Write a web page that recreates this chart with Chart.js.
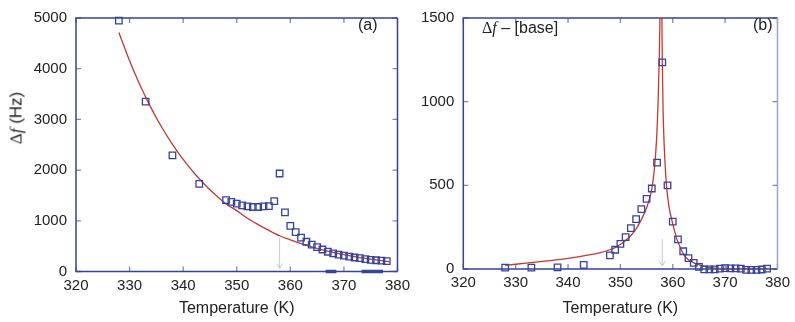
<!DOCTYPE html>
<html>
<head>
<meta charset="utf-8">
<script src="https://cdn.jsdelivr.net/npm/chart.js@4.4.1/dist/chart.umd.min.js"></script>
<style>
  body { margin: 0; background: #fff; width: 795px; height: 322px; overflow: hidden; position: relative;
         font-family: "Liberation Sans", Arial, sans-serif; }
  .box { position: absolute; top: 0; height: 322px; }
  #boxA { left: 0; width: 415px; }
  #boxB { left: 415px; width: 380px; }
  .lbl { position: absolute; font-size: 16px; color: #222; white-space: nowrap; line-height: 1; }
  .sym { font-family: "Liberation Serif", "DejaVu Serif", serif; }
  .it { font-style: italic; }
  #ytitle { left: 16px; top: 118px; transform: translate(-50%, -50%) rotate(-90deg); font-size: 17px; }
</style>
</head>
<body>
<div class="box" id="boxA"><canvas id="chartA"></canvas></div>
<div class="box" id="boxB"><canvas id="chartB"></canvas></div>

<div class="lbl" id="ytitle"><span class="sym">&Delta;<span class="it">f</span></span> (Hz)</div>
<div class="lbl" style="left:358px; top:17px;">(a)</div>
<div class="lbl" style="left:753px; top:17px;">(b)</div>
<div class="lbl" style="left:482px; top:20px;"><span class="sym">&Delta;<span class="it">f</span></span> &ndash; [base]</div>

<script>
// measured temperatures (K)
const temps = [328, 333, 338, 343,
  348, 349, 350, 351, 352, 353, 354, 355, 356, 357, 358,
  359, 360, 361, 362, 363, 364, 365, 366, 367, 368,
  369, 370, 371, 372, 373, 374, 375, 376, 377, 378];

// panel (a): frequency shift (Hz)
const shiftA = [4950, 3350, 2290, 1730,
  1406, 1375, 1337, 1305, 1286, 1272, 1272, 1286, 1291, 1387, 1933,
  1165, 899, 777, 670, 587, 530, 480, 434, 390, 358,
  333, 314, 295, 276, 263, 244, 230, 222, 215, 206];

// panel (b): shift minus baseline (Hz)
const shiftB = [8, 8, 10, 25,
  81, 115, 150, 190, 244, 298, 358, 419, 481, 636, 1235,
  500, 283, 177, 106, 65, 37, 13, -2, -2, -2,
  2, 5, 4, 4, 2, -5, -5, -5, -3, 2];

// fitted baseline curve in (a)
const fitTempA = [328, 330, 332, 334, 336, 338, 340, 342, 344, 346, 348, 350, 352, 354,
  356, 358, 360, 362, 364, 366, 368, 370, 372, 374, 376, 378, 378.5];
const fitA = [4714, 4155, 3662, 3228, 2845, 2508, 2210, 1948, 1717, 1513, 1334, 1200, 1050, 925,
  810, 705, 625, 551, 486, 425, 375, 333, 293, 258, 228, 201, 195];

// fitted critical curve in (b), two branches
const fitTempBL = [328, 332, 336, 340, 344, 346, 348, 349, 350, 351, 352, 353, 354, 355,
  355.5, 356, 356.5, 356.9, 357.2, 357.45, 357.6];
const fitBL = [22, 35, 48, 63, 84, 97, 115, 128, 146, 170, 200, 240, 295, 365,
  415, 480, 600, 770, 1000, 1300, 1600];
const fitTempBR = [357.9, 358.0, 358.15, 358.35, 358.8, 359.3, 359.9, 360.8, 361.5, 362.2, 363,
  364.4, 365.5, 366.9, 368, 369.5, 372, 375, 378];
const fitBR = [1600, 1250, 950, 750, 500, 370, 283, 177, 125, 82, 55,
  32, 20, 10, 5, 2, 0, 0, 0];

// marks on the baseline of (a)
const baseMarkT = [366.6, 368.6, 370, 373.3, 377.3];
const baseMarkV = [0, 0, null, 0, 0];

const transitionT = 358;
const xTicks = [320, 330, 340, 350, 360, 370, 380];

const blue = '#34449a';
const red = '#c8372d';
const tickFont = { family: '"Liberation Sans", Arial, sans-serif', size: 15 };

function pts(xs, ys) {
  return xs.map((x, i) => ({ x: x, y: ys[i] }));
}

// inward ticks, frame and the grey arrow at the transition
function framePlugin(arrowTop, rightColor) {
  return {
    id: 'frame',
    beforeDatasetsDraw(chart) {
      const { ctx, chartArea: a, scales } = chart;
      const L = 5;
      ctx.save();
      ctx.lineWidth = 1.3;
      ctx.strokeStyle = '#7f86bd';
      scales.x.ticks.forEach(t => {
        const px = scales.x.getPixelForValue(t.value);
        ctx.beginPath();
        ctx.moveTo(px, a.bottom); ctx.lineTo(px, a.bottom - L);
        ctx.moveTo(px, a.top); ctx.lineTo(px, a.top + L);
        ctx.stroke();
      });
      scales.y.ticks.forEach(t => {
        const py = scales.y.getPixelForValue(t.value);
        ctx.beginPath();
        ctx.moveTo(a.left, py); ctx.lineTo(a.left + L, py);
        ctx.moveTo(a.right, py); ctx.lineTo(a.right - L, py);
        ctx.stroke();
      });
      ctx.lineWidth = 1.5;
      ctx.strokeStyle = blue;
      ctx.beginPath();
      ctx.moveTo(a.right, a.top); ctx.lineTo(a.left, a.top);
      ctx.lineTo(a.left, a.bottom); ctx.lineTo(a.right, a.bottom);
      ctx.stroke();
      ctx.strokeStyle = rightColor;
      ctx.beginPath();
      ctx.moveTo(a.right, a.top); ctx.lineTo(a.right, a.bottom);
      ctx.stroke();

      // arrow
      const ax = scales.x.getPixelForValue(transitionT);
      const ay = scales.y.getPixelForValue(arrowTop);
      const ab = a.bottom - 3;
      ctx.strokeStyle = '#c9c9c9';
      ctx.lineWidth = 1;
      ctx.beginPath();
      ctx.moveTo(ax, ay); ctx.lineTo(ax, ab);
      ctx.moveTo(ax - 3, ab - 5); ctx.lineTo(ax, ab); ctx.lineTo(ax + 3, ab - 5);
      ctx.stroke();
      ctx.restore();
    }
  };
}

function makeOptions(yMax, yStep, yWidth, xHeight, padRight) {
  return {
    responsive: true,
    maintainAspectRatio: false,
    animation: false,
    layout: { padding: { top: 9, right: padRight, left: 0, bottom: 0 } },
    plugins: { legend: { display: false }, tooltip: { enabled: false } },
    scales: {
      x: {
        type: 'linear', min: 320, max: 380,
        afterBuildTicks: s => { s.ticks = xTicks.map(v => ({ value: v })); },
        afterFit: s => { s.height = xHeight; },
        grid: { display: false, drawTicks: false },
        border: { display: false },
        ticks: { font: tickFont, color: '#222', padding: 5, maxRotation: 0,
                 callback: v => String(v) },
        title: { display: true, text: 'Temperature (K)', color: '#222',
                 font: { family: tickFont.family, size: 16 }, padding: { top: 9 } }
      },
      y: {
        min: 0, max: yMax,
        afterFit: s => { s.width = yWidth; },
        grid: { display: false, drawTicks: false },
        border: { display: false },
        ticks: { stepSize: yStep, font: tickFont, color: '#222', padding: 9,
                 callback: v => String(v) }
      }
    }
  };
}

const pointStyle = {
  type: 'scatter', showLine: false, pointStyle: 'rect', pointRadius: 4.6,
  pointBorderWidth: 1.3, pointBorderColor: blue, pointBackgroundColor: 'rgba(255,255,255,0)',
  clip: false, order: 0
};
const lineStyle = {
  type: 'line', showLine: true, borderColor: red, borderWidth: 1.3, pointRadius: 0,
  cubicInterpolationMode: 'monotone', fill: false, order: 1
};

new Chart(document.getElementById('chartA'), {
  type: 'scatter',
  data: {
    datasets: [
      Object.assign({ data: pts(fitTempA, fitA) }, lineStyle),
      Object.assign({ data: pts(temps, shiftA) }, pointStyle),
      { type: 'line', data: pts(baseMarkT, baseMarkV), borderColor: blue, borderWidth: 3.5,
        pointRadius: 0, spanGaps: false, clip: false, order: 2 }
    ]
  },
  options: makeOptions(5000, 1000, 76, 50.5, 16.5),
  plugins: [framePlugin(660, blue)]
});

new Chart(document.getElementById('chartB'), {
  type: 'scatter',
  data: {
    datasets: [
      Object.assign({ data: pts(fitTempBL, fitBL) }, lineStyle),
      Object.assign({ data: pts(fitTempBR, fitBR) }, lineStyle),
      Object.assign({ data: pts(temps, shiftB) }, pointStyle)
    ]
  },
  options: makeOptions(1500, 500, 48.3, 53, 12),
  plugins: [framePlugin(180, '#9ca1cf')]
});
</script>
</body>
</html>
